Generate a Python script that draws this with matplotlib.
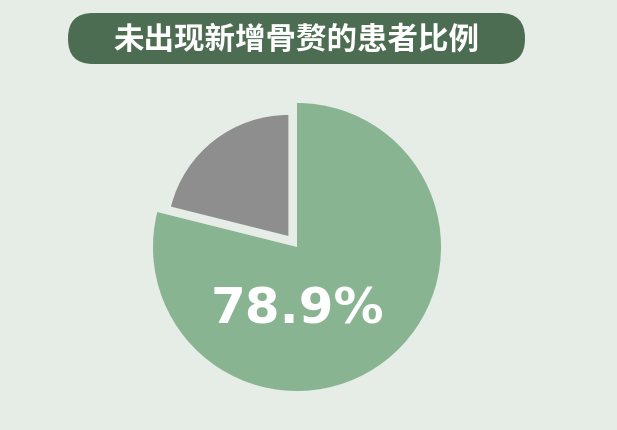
import matplotlib
matplotlib.use("Agg")
import matplotlib.pyplot as plt
from matplotlib.patches import FancyBboxPatch

# datos
titulo = "未出现新增骨赘的患者比例"
etiquetas = ["未出现新增骨赘", "出现新增骨赘"]
valores = [78.9, 21.1]
texto_pct = "78.9%"

fondo = "#e6ece6"
verde = "#88b492"
gris = "#8e8e8e"
verde_oscuro = "#4d6d53"

fig = plt.figure(figsize=(6.17, 4.31), dpi=100)
fig.patch.set_facecolor(fondo)
ax = fig.add_axes([0, 0, 1, 1])

# pastel grande (solo la parte verde)
w1, _ = ax.pie(valores, colors=[verde, gris], startangle=90, counterclock=False,
               center=(297, 183), radius=144, frame=True)
w1[1].set_visible(False)

# la parte gris, más pequeña y separada
w2, _ = ax.pie(valores, colors=[verde, gris], startangle=90, counterclock=False,
               center=(297, 183), radius=121, explode=[0, 14], frame=True)
w2[0].set_visible(False)

ax.set_xlim(0, 617)
ax.set_ylim(0, 431)
ax.set_aspect("equal")
ax.axis("off")

# caja del título
caja = FancyBboxPatch((68, 366), 457, 51, boxstyle="round,pad=0,rounding_size=25",
                      facecolor=verde_oscuro, edgecolor="none")
ax.add_patch(caja)
ax.text(296.5, 391, titulo, ha="center", va="center", color="white", fontsize=22,
        fontweight="bold", family=["Noto Sans CJK SC", "DejaVu Sans"])

ax.text(297, 122, texto_pct, ha="center", va="center", color="white", fontsize=36,
        fontweight="bold", family="DejaVu Sans")

fig.savefig("out.png", dpi=100, facecolor=fondo)
